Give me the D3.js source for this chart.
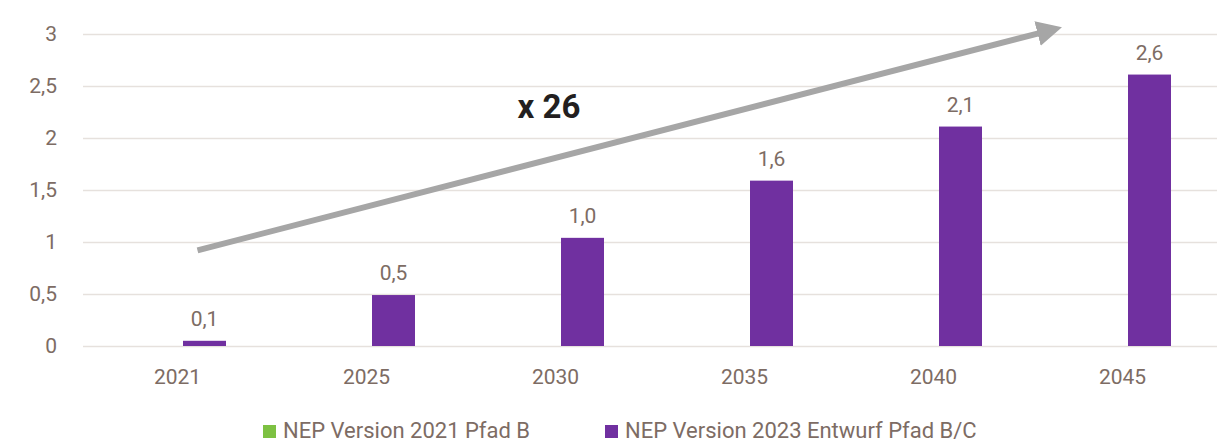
<!DOCTYPE html>
<meta charset="utf-8">
<style>
body { margin: 0; background: #fff; }
text { font-family: Roboto, "Noto Sans", sans-serif; fill: #7d6c64; }
.grid line { stroke: #e6e1dd; stroke-width: 1.6; }
.grid path { display: none; }
.axis path, .axis line { display: none; }
</style>
<svg width="1220" height="445"></svg>
<script src="https://d3js.org/d3.v7.min.js"></script>
<script>

var years = ["2021", "2025", "2030", "2035", "2040", "2045"];
var seriesNames = ["NEP Version 2021 Pfad B", "NEP Version 2023 Entwurf Pfad B/C"];
var nep2021 = [0, 0, 0, 0, 0, 0];
var nep2023 = [0.05, 0.49, 1.04, 1.59, 2.11, 2.61];
var yTicks = [0, 0.5, 1, 1.5, 2, 2.5, 3];
var colors = ["#7dc142", "#7030a0"];

var svg = d3.select("svg"),
    margin = {top: 34, right: 3, bottom: 99, left: 83},
    width = +svg.attr("width") - margin.left - margin.right,
    height = +svg.attr("height") - margin.top - margin.bottom;

var g = svg.append("g")
    .attr("transform", "translate(" + margin.left + "," + margin.top + ")");

var x0 = d3.scaleBand().domain(years).range([0, width]);
var x1 = d3.scaleBand().domain(seriesNames).range([0, 97]).paddingInner(11 / 54);
var y = d3.scaleLinear().domain([0, 3]).range([height, 0]);

var fmt = function(v) { return d3.format(".1f")(v).replace(".", ","); };
var tickFmt = function(v) { return String(v).replace(".", ","); };

// grid
g.append("g")
    .attr("class", "grid")
    .call(d3.axisLeft(y).tickValues(yTicks).tickSize(-width).tickFormat(""));

// y labels
g.append("g")
    .attr("class", "axis")
    .call(d3.axisLeft(y).tickValues(yTicks).tickSize(0).tickPadding(26).tickFormat(tickFmt))
  .selectAll("text")
    .style("font-size", "21px");

// x labels
g.append("g")
    .attr("class", "axis")
    .attr("transform", "translate(0," + height + ")")
    .call(d3.axisBottom(x0).tickSize(0).tickPadding(23))
  .selectAll("text")
    .style("font-size", "21px");

var rows = years.map(function(d, i) {
  return {year: d, values: [nep2021[i], nep2023[i]]};
});

var groups = g.selectAll(".grp")
  .data(rows)
  .enter().append("g")
    .attr("class", "grp")
    .attr("transform", function(d) {
      return "translate(" + (x0(d.year) + x0.bandwidth() / 2 - 48.5) + ",0)";
    });

groups.selectAll("rect")
  .data(function(d) { return d.values.map(function(v, k) { return {name: seriesNames[k], value: v, k: k}; }); })
  .enter().append("rect")
    .attr("x", function(d) { return x1(d.name); })
    .attr("y", function(d) { return y(d.value); })
    .attr("width", x1.bandwidth())
    .attr("height", function(d) { return height - y(d.value); })
    .attr("fill", function(d) { return colors[d.k]; });

groups.selectAll(".lbl")
  .data(function(d) { return [{name: seriesNames[1], value: d.values[1]}]; })
  .enter().append("text")
    .attr("class", "lbl")
    .attr("x", function(d) { return x1(d.name) + x1.bandwidth() / 2; })
    .attr("y", function(d) { return y(d.value) - 15; })
    .attr("text-anchor", "middle")
    .style("font-size", "21px")
    .text(function(d) { return fmt(d.value); });

// trend arrow
svg.append("defs").append("marker")
    .attr("id", "head")
    .attr("viewBox", "0 0 10 10")
    .attr("refX", 2).attr("refY", 5)
    .attr("markerWidth", 4.2).attr("markerHeight", 4.2)
    .attr("orient", "auto")
  .append("path")
    .attr("d", "M0,0 L10,5 L0,10 z")
    .attr("fill", "#a6a6a6");

var ax1 = x0("2021") + x0.bandwidth() / 2 + 20,
    ay1 = y(0.92),
    ax2 = x0("2045") + 28,
    ay2 = y(3.05);
var ang = Math.atan2(ay2 - ay1, ax2 - ax1);
g.append("line")
    .attr("x1", ax1).attr("y1", ay1)
    .attr("x2", ax2 - 14 * Math.cos(ang)).attr("y2", ay2 - 14 * Math.sin(ang))
    .attr("stroke", "#a6a6a6")
    .attr("stroke-width", 6)
    .attr("marker-end", "url(#head)");

g.append("text")
    .attr("x", x0("2030") + 88)
    .attr("y", y(2.19))
    .attr("text-anchor", "middle")
    .style("font-size", "33px")
    .style("font-weight", "bold")
    .style("fill", "#231f20")
    .text("x 26");

// legend
var legX = [263, 605];
var leg = svg.selectAll(".leg")
  .data(seriesNames)
  .enter().append("g")
    .attr("class", "leg")
    .attr("transform", function(d, i) { return "translate(" + legX[i] + ",425)"; });

leg.append("rect")
    .attr("width", 13).attr("height", 13)
    .attr("fill", function(d, i) { return colors[i]; });

leg.append("text")
    .attr("x", 20).attr("y", 13)
    .style("font-size", "22px")
    .text(function(d) { return d; });

</script>
